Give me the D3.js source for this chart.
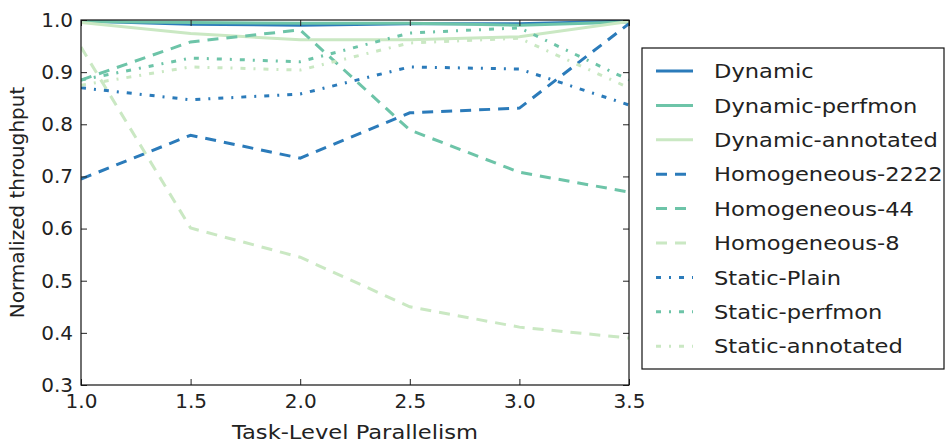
<!DOCTYPE html>
<html><head><meta charset="utf-8">
<script src="https://cdn.jsdelivr.net/npm/d3@7"></script>
<style>body{margin:0;background:#fff}text{font-family:"DejaVu Sans";fill:#222}</style>
</head><body><svg id="c" width="946" height="444"></svg>
<script>
const xValues = [1.0, 1.5, 2.0, 2.5, 3.0, 3.5];
const seriesNames = ["Dynamic","Dynamic-perfmon","Dynamic-annotated","Homogeneous-2222","Homogeneous-44","Homogeneous-8","Static-Plain","Static-perfmon","Static-annotated"];
const dynamic = [0.998, 0.992, 0.990, 0.993, 0.993, 0.998];
const dynamicPerfmon = [0.997, 0.995, 0.994, 0.994, 0.990, 0.996];
const dynamicAnnotated = [0.995, 0.974, 0.962, 0.962, 0.968, 0.997];
const homogeneous2222 = [0.695, 0.779, 0.735, 0.822, 0.831, 0.993];
const homogeneous44 = [0.885, 0.958, 0.981, 0.789, 0.708, 0.670];
const homogeneous8 = [0.948, 0.601, 0.545, 0.450, 0.411, 0.390];
const staticPlain = [0.870, 0.847, 0.858, 0.910, 0.906, 0.837];
const staticPerfmon = [0.885, 0.927, 0.920, 0.975, 0.985, 0.885];
const staticAnnotated = [0.875, 0.910, 0.904, 0.956, 0.965, 0.870];
const xTicks = [1.0, 1.5, 2.0, 2.5, 3.0, 3.5];
const yTicks = [0.3, 0.4, 0.5, 0.6, 0.7, 0.8, 0.9, 1.0];

const allValues = [dynamic, dynamicPerfmon, dynamicAnnotated, homogeneous2222, homogeneous44, homogeneous8, staticPlain, staticPerfmon, staticAnnotated];
const colors = ["#2b7bba", "#6dc4a8", "#cae8c3"];
const dashes = [null, "11,8", "5,8,2,8"];

const svg = d3.select("#c");
const L = 81, R = 629, T = 20, B = 385;
const x = d3.scaleLinear().domain([1.0, 3.5]).range([L, R]);
const y = d3.scaleLinear().domain([0.3, 1.0]).range([B, T]);

svg.append("defs").append("clipPath").attr("id","clip").append("rect")
  .attr("x", L).attr("y", T).attr("width", R-L).attr("height", B-T);

const line = d3.line().x((d,i)=>x(xValues[i])).y(d=>y(d));
const g = svg.append("g").attr("clip-path","url(#clip)");
allValues.forEach((vals, k) => {
  g.append("path").datum(vals).attr("d", line)
    .attr("fill","none").attr("stroke", colors[k%3]).attr("stroke-width", 3)
    .attr("stroke-dasharray", dashes[Math.floor(k/3)]);
});

// axes
const fs = 20;
const sx = 1.13;
const ax = svg.append("g").attr("transform",`translate(0,${B})`)
  .call(d3.axisBottom(x).tickValues(xTicks).tickFormat(d3.format(".1f")).tickSizeInner(-6).tickSizeOuter(0).tickPadding(9));
const ay = svg.append("g").attr("transform",`translate(${L},0)`)
  .call(d3.axisLeft(y).tickValues(yTicks).tickFormat(d3.format(".1f")).tickSizeInner(-6).tickSizeOuter(0).tickPadding(8));
const axT = svg.append("g").attr("transform",`translate(0,${T})`)
  .call(d3.axisTop(x).tickValues(xTicks).tickFormat("").tickSizeInner(-6).tickSizeOuter(0));
const ayR = svg.append("g").attr("transform",`translate(${R},0)`)
  .call(d3.axisRight(y).tickValues(yTicks).tickFormat("").tickSizeInner(-6).tickSizeOuter(0));
[ax, ay, axT, ayR].forEach(a => {
  a.select(".domain").remove();
  a.selectAll("line").attr("stroke","#222");
  a.selectAll("text").attr("font-size", fs).attr("font-family","DejaVu Sans").attr("fill","#222");
});
svg.append("rect").attr("x",L).attr("y",T).attr("width",R-L).attr("height",B-T)
  .attr("fill","none").attr("stroke","#111").attr("stroke-width",1.2);

svg.append("text").attr("transform",`translate(${(L+R)/2},439) scale(${sx},1)`).attr("text-anchor","middle")
  .attr("font-size",fs).text("Task-Level Parallelism");
svg.append("text").attr("transform",`translate(24,${(T+B)/2}) rotate(-90)`).attr("text-anchor","middle")
  .attr("font-size",fs).text("Normalized throughput");

// legend
const lg = svg.append("g");
lg.append("rect").attr("x",642).attr("y",48).attr("width",302).attr("height",321)
  .attr("fill","#fff").attr("stroke","#111").attr("stroke-width",1.2);
seriesNames.forEach((name,k)=>{
  const cy = 71 + k*34.4;
  lg.append("line").attr("x1",656).attr("x2",693).attr("y1",cy).attr("y2",cy)
    .attr("stroke",colors[k%3]).attr("stroke-width",3).attr("stroke-dasharray",dashes[Math.floor(k/3)]);
  lg.append("text").attr("transform",`translate(714,${cy}) scale(${sx},1)`).attr("dy","0.36em").attr("font-size",fs).text(name);
});
</script></body></html>
